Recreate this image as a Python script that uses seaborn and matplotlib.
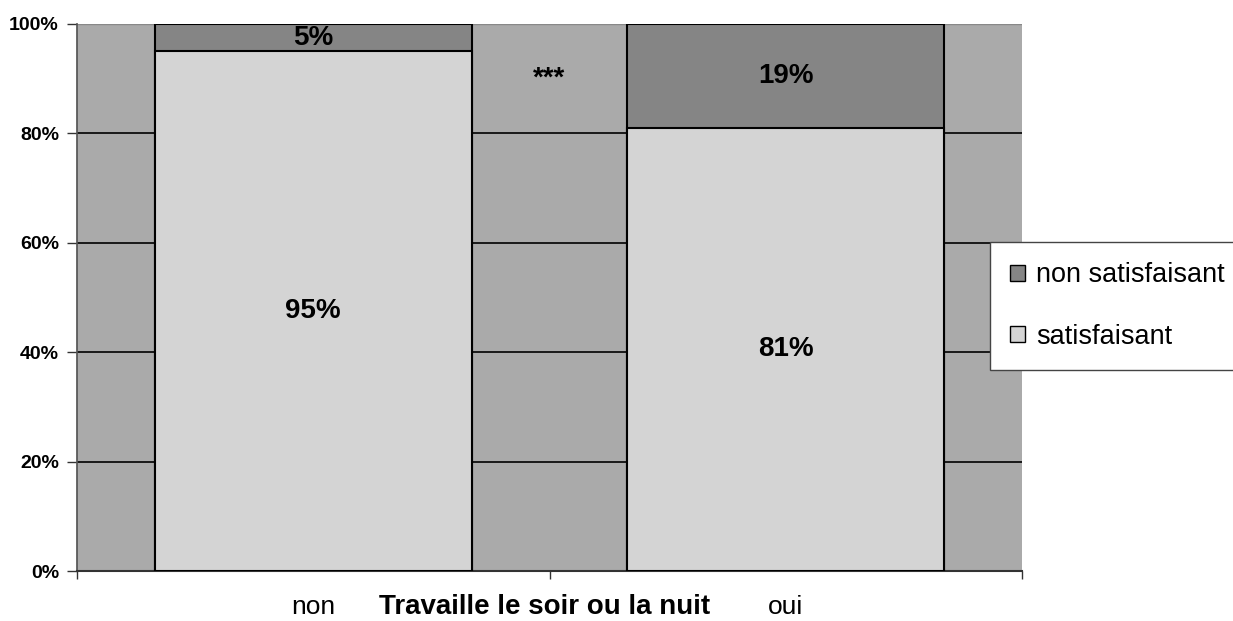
import matplotlib
matplotlib.use("Agg")
import matplotlib.pyplot as plt
import seaborn as sns
import pandas as pd
from matplotlib.patches import Patch

categories = ["non", "oui"]
satisfaisant = [95, 81]
non_satisfaisant = [5, 19]
yticks = [0, 20, 40, 60, 80, 100]
ytick_labels = ["0%", "20%", "40%", "60%", "80%", "100%"]
xlabel = "Travaille le soir ou la nuit"
signif = "***"

sns.set_theme(style="white")
plt.rcParams['font.family'] = ['Liberation Sans', 'DejaVu Sans']
plt.rcParams['text.color'] = 'black'
plt.rcParams['xtick.color'] = 'black'
plt.rcParams['ytick.color'] = 'black'

c_dark = "#858585"
c_light = "#d4d4d4"
c_bg = "#aaaaaa"

df = pd.DataFrame({"cat": categories,
                   "total": [s + n for s, n in zip(satisfaisant, non_satisfaisant)],
                   "sat": satisfaisant})

fig = plt.figure(figsize=(12.33, 6.21), dpi=100)
ax = fig.add_axes([77/1233, 1 - 571/621, (1022-77)/1233, (571-24)/621])
ax.set_facecolor(c_bg)

sns.barplot(data=df, x="cat", y="total", color=c_dark, saturation=1, width=0.67,
            edgecolor="black", linewidth=1.5, ax=ax, zorder=3)
sns.barplot(data=df, x="cat", y="sat", color=c_light, saturation=1, width=0.67,
            edgecolor="black", linewidth=1.5, ax=ax, zorder=4)

ax.set_xlim(-0.5, 1.5)
ax.set_ylim(0, 100)
for y in yticks[1:-1]:
    ax.axhline(y, color="black", lw=1.2, zorder=1)
ax.axhline(100, color="#888888", lw=1, zorder=1)

ax.set_yticks(yticks)
ax.set_yticklabels(ytick_labels)
for t in ax.get_yticklabels():
    t.set_fontsize(14)
    t.set_fontweight("bold")
ax.set_xticks([-0.5, 0.5, 1.5], minor=False)
ax.set_xticklabels([])
ax.tick_params(axis="y", length=7, width=1, color="#333333", direction="out", left=True, pad=6)
ax.tick_params(axis="x", length=6, width=1, color="#333333", direction="out", bottom=True)
for i, c in enumerate(categories):
    ax.text(i, -0.066, c, transform=ax.get_xaxis_transform(), ha="center", va="center",
            fontsize=19)
ax.text(0.49, -0.066, xlabel, transform=ax.get_xaxis_transform(), ha="center", va="center",
        fontsize=20, fontweight="bold")
ax.set_xlabel("")
ax.set_ylabel("")

for sp in ["top", "right"]:
    ax.spines[sp].set_visible(False)
ax.spines["left"].set_color("#555555")
ax.spines["bottom"].set_color("#333333")
ax.spines["bottom"].set_linewidth(1.5)

for i in range(len(categories)):
    s, n = satisfaisant[i], non_satisfaisant[i]
    ax.text(i, s / 2, f"{s}%", ha="center", va="center", fontsize=20, fontweight="bold", zorder=6)
    ax.text(i, s + n / 2, f"{n}%", ha="center", va="center", fontsize=20, fontweight="bold", zorder=6)
ax.text(0.5, 90, signif, ha="center", va="center", fontsize=20, fontweight="bold", zorder=6)

handles = [Patch(facecolor=c_dark, edgecolor="black", label="non satisfaisant"),
           Patch(facecolor=c_light, edgecolor="black", label="satisfaisant")]
leg = fig.legend(handles=handles, loc="upper left", bbox_to_anchor=(990/1233, 1 - 242/621),
                 fontsize=19.5, frameon=True, fancybox=False, edgecolor="#444444",
                 facecolor="white", framealpha=1,
                 handlelength=0.55, handleheight=0.55, handletextpad=0.4,
                 labelspacing=1.3, borderpad=0.75, borderaxespad=0)
leg.get_frame().set_linewidth(1)

fig.savefig("out.png", dpi=100, facecolor="white")
